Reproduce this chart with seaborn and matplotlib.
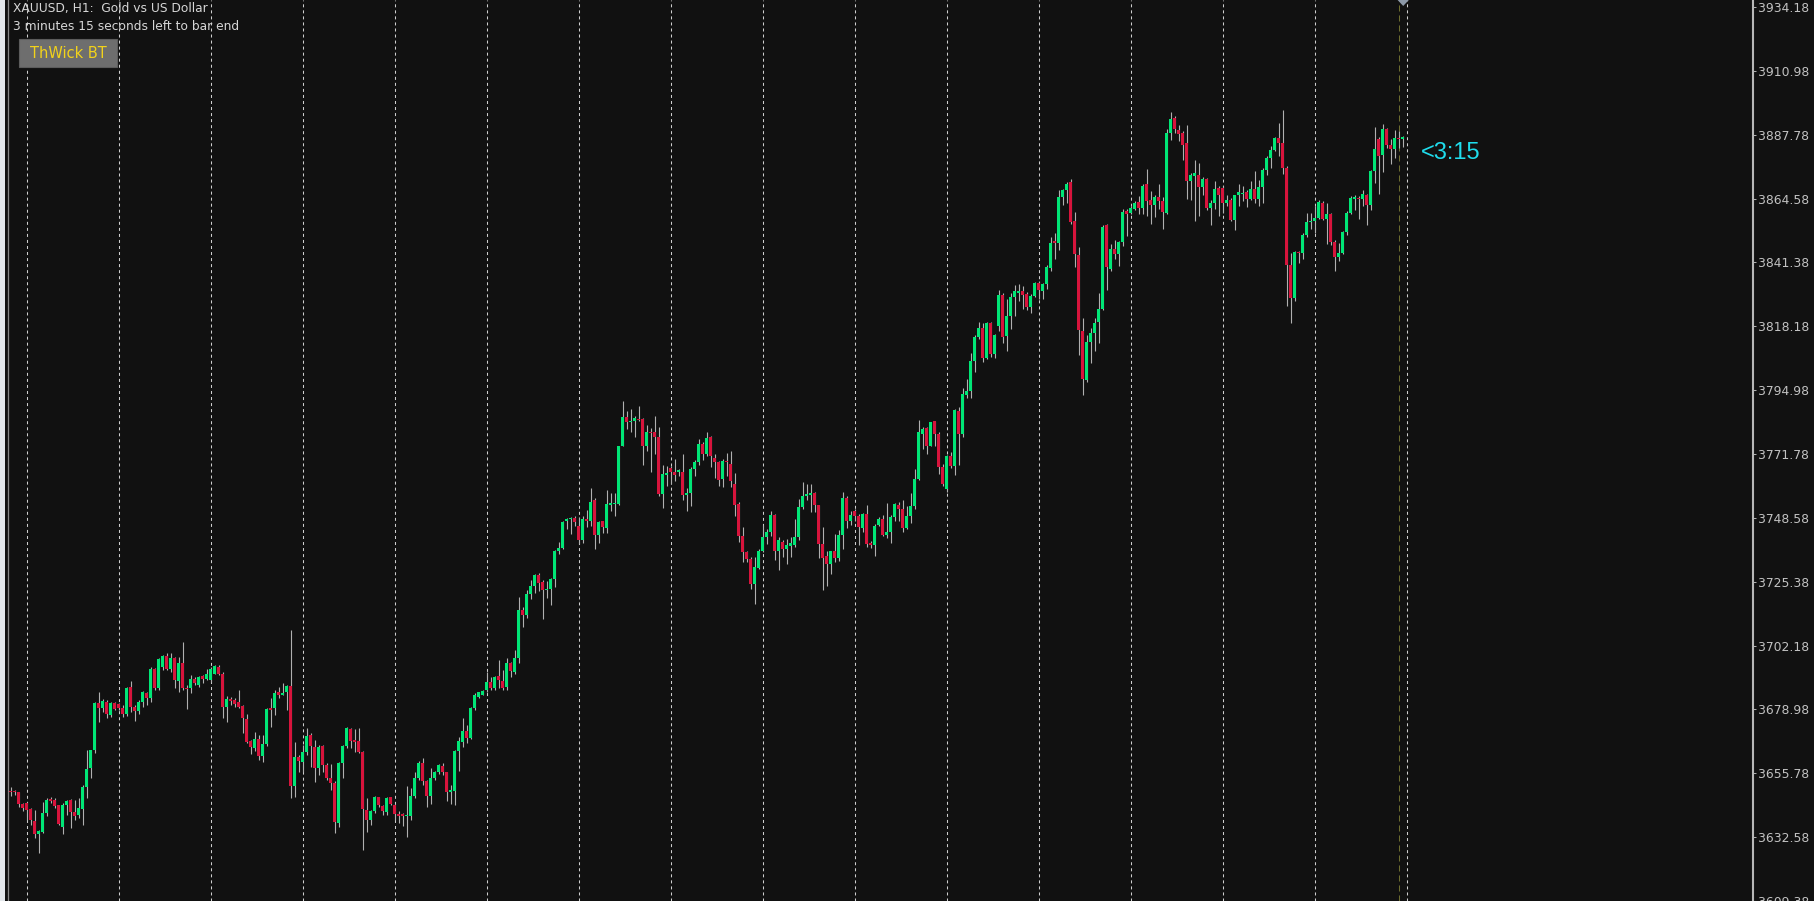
import matplotlib
matplotlib.use("Agg")
import matplotlib.pyplot as plt
import matplotlib.transforms as mtransforms
from matplotlib.patches import Rectangle, Polygon
import numpy as np
import pandas as pd
import seaborn as sns

# ---------------- data (XAUUSD H1 candles) ----------------
opens = [3649.4, 3649.5, 3648.9, 3644.7, 3645.0, 3642.7, 3638.5, 3633.7, 3634.6, 3641.3,
         3646.6, 3645.9, 3644.1, 3636.3, 3644.3, 3645.9, 3641.6, 3640.7, 3642.9, 3650.7,
         3657.6, 3664.1, 3681.4, 3679.4, 3681.8, 3676.9, 3681.2, 3680.8, 3679.4, 3677.5,
         3687.0, 3680.0, 3678.4, 3681.8, 3684.8, 3683.2, 3693.6, 3686.6, 3694.4, 3698.4,
         3693.6, 3697.5, 3689.3, 3695.7, 3686.8, 3686.6, 3690.2, 3688.0, 3691.2, 3690.2,
         3689.6, 3692.0, 3694.4, 3692.0, 3680.0, 3682.6, 3682.4, 3681.5, 3680.3, 3675.5,
         3667.5, 3665.1, 3668.1, 3662.1, 3666.3, 3679.4, 3679.4, 3685.2, 3684.4, 3685.2,
         3687.4, 3651.0, 3661.8, 3659.8, 3663.6, 3669.7, 3665.5, 3657.8, 3665.8, 3658.8,
         3654.2, 3652.2, 3637.7, 3659.4, 3665.8, 3671.9, 3667.9, 3667.5, 3663.6, 3642.5,
         3638.9, 3641.9, 3647.1, 3643.9, 3641.6, 3647.0, 3644.3, 3640.9, 3640.9, 3640.4,
         3640.4, 3647.7, 3654.0, 3659.4, 3653.0, 3647.7, 3654.2, 3656.2, 3658.6, 3656.2,
         3649.1, 3649.5, 3663.9, 3667.3, 3671.1, 3668.7, 3679.4, 3683.6, 3684.4, 3686.0,
         3688.8, 3686.6, 3691.2, 3689.3, 3687.0, 3696.0, 3692.6, 3697.5, 3715.0, 3713.2,
         3721.0, 3723.8, 3727.9, 3725.3, 3722.3, 3722.9, 3726.5, 3736.5, 3737.6, 3747.3,
         3748.0, 3748.5, 3745.8, 3740.7, 3748.2, 3747.6, 3755.2, 3742.2, 3747.3, 3744.8,
         3753.3, 3753.5, 3753.5, 3774.8, 3785.1, 3783.5, 3783.9, 3784.5, 3784.5, 3774.6,
         3779.9, 3779.6, 3777.8, 3757.3, 3764.2, 3766.6, 3765.4, 3765.1, 3765.4, 3756.9,
         3757.6, 3766.4, 3768.8, 3775.4, 3771.8, 3777.8, 3770.2, 3768.8, 3762.7, 3769.4,
         3768.2, 3760.9, 3753.7, 3741.9, 3736.1, 3733.7, 3724.7, 3730.3, 3736.7, 3741.6,
         3743.4, 3749.7, 3736.7, 3739.8, 3737.1, 3738.3, 3738.6, 3741.6, 3752.5, 3756.4,
         3756.9, 3757.6, 3753.1, 3739.2, 3734.7, 3731.9, 3736.4, 3734.0, 3742.4, 3755.8,
         3747.3, 3751.2, 3749.2, 3744.8, 3750.0, 3739.5, 3738.8, 3746.0, 3748.0, 3742.2,
         3743.6, 3748.8, 3753.3, 3751.9, 3744.8, 3749.2, 3752.8, 3762.7, 3779.0, 3781.1,
         3774.8, 3783.8, 3779.0, 3767.0, 3759.1, 3770.9, 3767.6, 3787.5, 3779.0, 3793.2,
         3794.7, 3805.6, 3814.4, 3817.7, 3806.6, 3819.5, 3808.0, 3818.3, 3829.4, 3814.7,
         3821.9, 3828.9, 3830.4, 3831.0, 3829.8, 3825.3, 3829.2, 3833.8, 3831.0, 3833.4,
         3839.5, 3849.1, 3848.3, 3865.2, 3867.6, 3870.5, 3856.4, 3843.9, 3816.5, 3798.7,
         3812.5, 3815.6, 3819.8, 3824.3, 3854.8, 3839.1, 3846.3, 3844.6, 3848.8, 3860.0,
         3859.4, 3860.8, 3863.3, 3861.2, 3869.7, 3864.0, 3862.4, 3865.2, 3863.6, 3859.4,
         3888.5, 3893.8, 3889.6, 3888.4, 3884.8, 3870.9, 3872.9, 3873.3, 3868.8, 3871.7,
         3861.2, 3862.8, 3868.3, 3868.4, 3862.8, 3864.2, 3856.7, 3865.7, 3866.4, 3866.9,
         3864.5, 3868.1, 3864.5, 3868.8, 3875.1, 3879.3, 3882.3, 3886.6, 3884.8, 3875.7,
         3840.3, 3828.6, 3845.1, 3844.7, 3851.2, 3856.0, 3856.4, 3857.6, 3863.0, 3857.2,
         3858.8, 3848.8, 3843.4, 3844.7, 3852.4, 3859.4, 3864.5, 3864.8, 3864.5, 3866.0,
         3862.4, 3874.5, 3886.2, 3880.5, 3889.8, 3884.2, 3882.6, 3886.6, 3886.2]
highs = [3650.7, 3649.7, 3649.1, 3644.9, 3645.5, 3643.1, 3642.5, 3635.2, 3645.5, 3646.7,
         3647.0, 3646.7, 3644.3, 3644.9, 3646.1, 3646.5, 3646.1, 3646.7, 3651.6, 3664.2,
         3664.2, 3681.8, 3685.4, 3682.6, 3682.4, 3681.8, 3681.8, 3681.2, 3680.6, 3687.2,
         3689.4, 3680.6, 3682.4, 3685.6, 3685.4, 3694.4, 3694.1, 3697.5, 3698.7, 3699.3,
         3699.3, 3698.1, 3698.1, 3703.3, 3687.8, 3691.4, 3690.8, 3691.2, 3691.4, 3693.8,
         3694.4, 3695.3, 3695.3, 3692.6, 3683.9, 3683.6, 3683.0, 3686.0, 3680.6, 3677.5,
         3667.9, 3670.9, 3669.7, 3669.7, 3679.4, 3683.0, 3686.0, 3687.2, 3688.7, 3687.8,
         3707.7, 3667.0, 3662.4, 3666.1, 3672.1, 3670.3, 3667.9, 3666.1, 3666.1, 3659.4,
         3659.1, 3652.8, 3659.8, 3666.1, 3672.7, 3672.3, 3671.9, 3672.3, 3663.9, 3646.7,
         3642.5, 3647.6, 3647.3, 3644.3, 3647.0, 3647.3, 3644.6, 3641.9, 3641.3, 3651.0,
         3650.4, 3656.4, 3660.3, 3661.2, 3653.4, 3657.6, 3656.6, 3659.1, 3659.4, 3656.4,
         3651.6, 3664.2, 3669.1, 3676.0, 3673.3, 3680.0, 3684.8, 3685.4, 3686.0, 3692.4,
         3690.8, 3691.2, 3696.9, 3693.3, 3697.5, 3696.3, 3700.5, 3719.8, 3716.2, 3722.3,
         3725.9, 3728.3, 3728.7, 3725.9, 3725.5, 3726.7, 3736.8, 3739.8, 3747.3, 3748.5,
         3748.8, 3749.4, 3748.8, 3749.2, 3751.6, 3759.3, 3755.7, 3747.6, 3747.6, 3758.7,
         3757.6, 3757.6, 3774.8, 3791.1, 3787.5, 3788.3, 3785.7, 3789.1, 3784.7, 3782.3,
         3781.1, 3785.7, 3781.5, 3767.8, 3767.6, 3767.3, 3770.0, 3766.4, 3771.8, 3759.3,
         3767.0, 3769.7, 3777.2, 3776.0, 3779.6, 3778.2, 3771.8, 3769.4, 3770.0, 3772.2,
         3773.0, 3764.9, 3754.3, 3745.2, 3736.7, 3734.3, 3734.3, 3737.3, 3746.0, 3744.6,
         3751.2, 3750.0, 3741.6, 3740.4, 3741.0, 3741.6, 3748.2, 3755.5, 3761.5, 3760.9,
         3760.9, 3757.9, 3753.3, 3745.2, 3736.4, 3736.7, 3742.8, 3744.0, 3757.9, 3756.4,
         3751.2, 3751.9, 3750.0, 3750.4, 3753.3, 3740.0, 3746.4, 3748.8, 3749.7, 3754.0,
         3749.7, 3754.0, 3754.3, 3754.9, 3752.8, 3757.6, 3766.4, 3784.2, 3781.5, 3781.5,
         3783.5, 3783.9, 3779.6, 3768.2, 3771.4, 3772.6, 3788.3, 3788.7, 3795.6, 3799.2,
         3808.6, 3814.9, 3819.8, 3819.3, 3819.8, 3819.8, 3815.3, 3831.4, 3830.4, 3828.0,
         3830.4, 3833.0, 3833.4, 3832.8, 3830.6, 3829.8, 3834.3, 3834.6, 3833.8, 3840.3,
         3850.7, 3852.1, 3867.6, 3867.9, 3870.5, 3871.7, 3859.6, 3847.1, 3821.3, 3814.9,
         3817.7, 3821.3, 3830.2, 3854.8, 3855.2, 3847.9, 3849.5, 3849.1, 3860.8, 3860.8,
         3861.8, 3863.6, 3865.4, 3869.7, 3875.3, 3867.2, 3865.7, 3870.0, 3865.2, 3890.0,
         3896.0, 3894.5, 3891.4, 3889.0, 3891.4, 3873.9, 3878.7, 3877.5, 3872.4, 3872.1,
         3864.2, 3870.9, 3869.1, 3869.1, 3866.0, 3864.8, 3866.0, 3869.7, 3869.3, 3867.6,
         3870.9, 3874.5, 3871.5, 3875.7, 3879.9, 3883.5, 3886.9, 3892.0, 3896.8, 3876.3,
         3844.9, 3845.5, 3845.5, 3852.1, 3859.2, 3859.4, 3861.8, 3864.0, 3863.6, 3862.8,
         3859.4, 3849.7, 3848.3, 3852.7, 3860.0, 3865.4, 3865.7, 3865.4, 3867.8, 3866.4,
         3875.1, 3890.6, 3886.9, 3891.8, 3890.2, 3886.2, 3889.6, 3889.0, 3887.4]
lows = [3647.7, 3647.9, 3643.7, 3641.9, 3638.9, 3637.1, 3632.2, 3626.8, 3634.0, 3640.1,
        3644.9, 3643.1, 3637.1, 3633.7, 3640.7, 3635.8, 3638.9, 3639.5, 3637.1, 3646.7,
        3654.0, 3663.0, 3674.5, 3678.1, 3675.7, 3676.3, 3678.7, 3678.7, 3676.3, 3676.7,
        3678.1, 3674.8, 3677.5, 3680.0, 3680.6, 3681.8, 3686.0, 3686.2, 3693.2, 3693.2,
        3692.6, 3686.6, 3685.4, 3686.0, 3679.1, 3684.8, 3687.8, 3687.2, 3688.4, 3689.6,
        3689.0, 3691.7, 3691.4, 3676.0, 3674.5, 3680.6, 3680.0, 3679.4, 3670.3, 3666.7,
        3662.7, 3663.9, 3660.6, 3660.0, 3665.8, 3672.7, 3676.9, 3683.2, 3684.2, 3678.7,
        3646.7, 3647.0, 3656.4, 3656.4, 3662.4, 3658.2, 3652.5, 3655.2, 3656.4, 3653.4,
        3649.7, 3634.0, 3636.1, 3654.0, 3664.9, 3664.9, 3663.6, 3663.3, 3628.0, 3634.6,
        3637.1, 3641.3, 3643.7, 3640.7, 3640.7, 3644.3, 3638.9, 3637.7, 3636.5, 3632.5,
        3638.9, 3646.7, 3653.4, 3651.6, 3643.7, 3644.6, 3653.4, 3655.4, 3655.2, 3645.8,
        3644.6, 3644.1, 3656.6, 3665.5, 3666.7, 3668.2, 3678.7, 3683.2, 3684.2, 3685.4,
        3686.0, 3686.0, 3686.8, 3686.0, 3686.0, 3690.8, 3692.0, 3695.7, 3709.0, 3712.2,
        3719.2, 3721.4, 3721.9, 3712.0, 3719.5, 3717.1, 3723.5, 3735.5, 3737.1, 3744.6,
        3742.8, 3745.8, 3739.2, 3739.5, 3745.2, 3745.8, 3737.1, 3739.5, 3743.2, 3743.2,
        3751.2, 3749.2, 3753.1, 3774.6, 3780.9, 3779.6, 3777.8, 3783.9, 3767.8, 3773.0,
        3765.4, 3771.8, 3756.4, 3752.1, 3760.1, 3760.9, 3762.1, 3763.7, 3755.2, 3750.9,
        3752.8, 3763.7, 3767.8, 3769.7, 3771.2, 3767.0, 3763.0, 3760.1, 3759.7, 3763.9,
        3759.7, 3749.2, 3739.8, 3732.5, 3732.5, 3722.9, 3717.4, 3730.1, 3736.1, 3739.2,
        3741.9, 3733.1, 3729.5, 3734.3, 3731.9, 3734.3, 3738.0, 3740.4, 3751.9, 3754.9,
        3750.6, 3750.6, 3734.0, 3722.2, 3723.8, 3728.3, 3732.5, 3732.8, 3737.1, 3744.8,
        3746.1, 3747.6, 3738.6, 3743.4, 3738.0, 3737.6, 3734.7, 3745.6, 3741.9, 3741.2,
        3739.5, 3747.3, 3747.3, 3743.4, 3744.4, 3746.8, 3751.9, 3762.5, 3773.6, 3771.8,
        3774.6, 3774.8, 3764.5, 3760.3, 3758.1, 3766.6, 3764.2, 3767.8, 3777.8, 3792.3,
        3792.3, 3801.4, 3813.7, 3805.3, 3806.2, 3807.2, 3806.8, 3816.5, 3812.0, 3809.2,
        3817.1, 3821.9, 3827.4, 3824.3, 3824.1, 3822.9, 3828.9, 3828.0, 3828.2, 3831.6,
        3838.2, 3842.7, 3845.9, 3862.4, 3862.8, 3855.5, 3839.8, 3807.7, 3793.2, 3798.0,
        3804.8, 3809.2, 3812.0, 3824.1, 3831.4, 3838.2, 3842.7, 3840.1, 3847.3, 3850.9,
        3858.8, 3860.4, 3858.8, 3859.1, 3858.2, 3855.5, 3857.9, 3860.8, 3853.4, 3859.1,
        3886.0, 3888.5, 3885.4, 3878.5, 3864.5, 3864.2, 3856.4, 3858.2, 3866.0, 3860.6,
        3854.8, 3860.8, 3858.2, 3859.4, 3862.0, 3856.4, 3853.1, 3862.0, 3863.6, 3861.6,
        3864.0, 3862.8, 3861.8, 3862.8, 3873.3, 3875.7, 3881.7, 3880.2, 3873.6, 3825.6,
        3819.5, 3827.4, 3841.0, 3842.5, 3850.7, 3853.4, 3851.9, 3857.0, 3856.7, 3847.9,
        3847.6, 3838.2, 3841.9, 3844.3, 3851.2, 3858.8, 3860.6, 3857.0, 3862.0, 3854.8,
        3860.6, 3870.3, 3866.4, 3874.1, 3883.0, 3877.3, 3879.3, 3883.0, 3883.3]
closes = [3649.0, 3649.0, 3644.7, 3643.1, 3642.5, 3638.9, 3633.7, 3634.9, 3641.3, 3646.2,
          3645.8, 3643.9, 3637.5, 3644.3, 3645.8, 3641.6, 3640.1, 3643.1, 3650.7, 3657.2,
          3664.1, 3681.2, 3679.6, 3682.2, 3677.2, 3681.2, 3679.1, 3679.4, 3677.2, 3686.6,
          3680.0, 3678.4, 3681.5, 3685.2, 3683.2, 3693.8, 3686.6, 3697.2, 3698.4, 3693.6,
          3697.5, 3689.5, 3695.7, 3686.6, 3686.4, 3690.2, 3688.4, 3690.8, 3690.2, 3692.0,
          3693.8, 3694.8, 3692.0, 3680.0, 3682.6, 3682.0, 3680.8, 3679.7, 3675.7, 3667.3,
          3665.5, 3668.1, 3662.1, 3666.3, 3679.1, 3678.7, 3684.8, 3684.4, 3684.8, 3687.4,
          3651.0, 3661.8, 3660.3, 3663.6, 3669.4, 3665.8, 3657.8, 3665.5, 3658.8, 3654.0,
          3652.2, 3638.0, 3659.4, 3665.8, 3672.1, 3667.5, 3667.3, 3663.6, 3642.9, 3638.9,
          3641.9, 3647.1, 3644.3, 3641.9, 3646.7, 3644.6, 3640.9, 3640.4, 3640.4, 3640.7,
          3647.7, 3654.0, 3659.4, 3653.0, 3647.7, 3654.2, 3656.2, 3658.8, 3656.4, 3649.1,
          3649.7, 3663.9, 3667.5, 3671.1, 3668.7, 3679.4, 3684.2, 3685.2, 3685.6, 3688.8,
          3686.6, 3690.8, 3689.6, 3686.6, 3696.0, 3692.9, 3697.5, 3715.0, 3713.4, 3721.0,
          3723.8, 3727.9, 3725.0, 3722.3, 3722.9, 3726.5, 3736.5, 3737.6, 3747.0, 3748.2,
          3748.5, 3747.0, 3740.7, 3748.2, 3747.6, 3754.5, 3742.2, 3747.0, 3745.2, 3753.7,
          3754.0, 3754.0, 3774.6, 3785.1, 3783.5, 3783.9, 3784.7, 3784.1, 3774.6, 3779.6,
          3779.4, 3777.8, 3757.3, 3764.5, 3764.9, 3765.4, 3764.2, 3765.8, 3756.9, 3757.6,
          3766.4, 3768.8, 3775.4, 3771.8, 3777.5, 3770.9, 3768.8, 3762.5, 3769.4, 3768.8,
          3761.8, 3753.1, 3741.9, 3736.1, 3733.7, 3724.7, 3730.7, 3736.4, 3741.6, 3743.6,
          3749.7, 3736.7, 3740.4, 3737.1, 3738.6, 3739.5, 3741.6, 3752.5, 3756.7, 3757.3,
          3757.6, 3753.3, 3739.2, 3734.0, 3731.9, 3736.4, 3734.0, 3742.4, 3755.7, 3747.3,
          3749.7, 3749.2, 3745.2, 3750.0, 3739.2, 3738.8, 3745.8, 3748.2, 3742.2, 3743.6,
          3748.8, 3753.7, 3751.9, 3744.8, 3749.2, 3752.8, 3762.7, 3779.6, 3780.9, 3774.8,
          3783.3, 3779.0, 3767.0, 3760.9, 3770.9, 3767.6, 3787.9, 3779.0, 3793.5, 3794.7,
          3805.6, 3814.4, 3817.7, 3806.8, 3819.3, 3808.0, 3814.9, 3829.4, 3814.4, 3821.9,
          3828.9, 3831.0, 3831.0, 3829.4, 3825.3, 3829.2, 3834.0, 3831.4, 3833.4, 3839.8,
          3848.3, 3848.5, 3865.2, 3867.6, 3870.0, 3856.0, 3844.3, 3816.9, 3799.0, 3812.5,
          3815.6, 3819.5, 3824.6, 3854.3, 3839.8, 3846.3, 3844.3, 3848.8, 3859.6, 3859.1,
          3861.2, 3863.0, 3861.2, 3869.3, 3863.6, 3862.4, 3865.2, 3863.6, 3859.6, 3888.5,
          3893.5, 3889.8, 3888.1, 3884.2, 3870.9, 3873.3, 3873.7, 3868.8, 3871.7, 3861.2,
          3862.8, 3868.1, 3866.0, 3863.0, 3864.2, 3856.7, 3865.7, 3866.9, 3866.6, 3864.5,
          3868.1, 3864.5, 3868.8, 3875.1, 3879.3, 3882.3, 3886.6, 3884.8, 3875.7, 3840.3,
          3828.6, 3845.1, 3844.7, 3851.2, 3856.0, 3856.4, 3857.6, 3863.3, 3857.2, 3858.8,
          3848.8, 3843.4, 3844.7, 3852.4, 3859.4, 3864.8, 3865.2, 3864.5, 3866.4, 3862.4,
          3874.5, 3882.6, 3880.2, 3889.8, 3884.2, 3882.6, 3886.6, 3886.2, 3886.9]

price_ticks = [3609.38, 3632.58, 3655.78, 3678.98, 3702.18, 3725.38, 3748.58, 3771.78,
               3794.98, 3818.18, 3841.38, 3864.58, 3887.78, 3910.98, 3934.18]
price_range = [3610.1, 3936.72]
bar_range = [-0.75, 435.5]
separator_bars = [4 + 23 * k for k in range(16)]
current_bar = 347
title_line = "XAUUSD, H1:  Gold vs US Dollar"
timer_line = "3 minutes 15 seconds left to bar end"
button_label = "ThWick BT"
countdown_label = "<3:15"

# ---------------- style ----------------
BG = "#111111"
BULL = "#00e676"
BEAR = "#d7143c"
WICK = "#b0b0b0"

sns.set_theme(style="dark", rc={"axes.facecolor": BG, "figure.facecolor": BG,
                                "axes.grid": False})
plt.rcParams["font.family"] = ["DejaVu Sans"]

W, H = 1815, 901
fig = plt.figure(figsize=(W / 100, H / 100), dpi=100, facecolor=BG)
ax = fig.add_axes([8 / W, 0, (1753 - 8) / W, 1])
ax.set_facecolor(BG)

df = pd.DataFrame({"bar": np.arange(len(closes)), "open": opens, "high": highs,
                   "low": lows, "close": closes})
df["bull"] = df["close"] >= df["open"]
df["body_low"] = df[["open", "close"]].min(axis=1)
df["body_h"] = (df["close"] - df["open"]).abs().clip(lower=0.36)

# separators
for b in separator_bars:
    ax.axvline(b, color="#cfcfcf", lw=0.75, ls=(0, (2.9, 2.9)), zorder=1)
ax.axvline(current_bar, color="#6d6d30", lw=0.75, ls=(0, (5.8, 3.8)), zorder=1)

# wicks and bodies
ax.vlines(df["bar"], df["low"], df["high"], color=WICK, lw=0.8, zorder=2)
ax.bar(df["bar"], df["body_h"], bottom=df["body_low"], width=0.75,
       color=np.where(df["bull"], BULL, BEAR), linewidth=0, zorder=3)

ax.set_xlim(*bar_range)
ax.set_ylim(*price_range)
ax.set_xticks([])
ax.yaxis.tick_right()
ax.set_yticks(price_ticks)
ax.set_yticklabels([f"{v:.2f}" for v in price_ticks])
ax.tick_params(axis="y", direction="out", length=2.5, width=0.75, color="#b0b0b0",
               labelcolor="#c2c2c2", labelsize=8.9, pad=1)
for s in ["top", "bottom"]:
    ax.spines[s].set_visible(False)
ax.spines["right"].set_color("#b8b8b8")
ax.spines["right"].set_linewidth(1.5)
ax.spines["left"].set_color("#858585")
ax.spines["left"].set_linewidth(0.9)

# shift marker triangle at top
trans = mtransforms.blended_transform_factory(ax.transData, ax.transAxes)
last = len(closes) - 1
ax.add_patch(Polygon([(last - 1.35, 1.0), (last + 1.45, 1.0), (last + 0.05, 1 - 6 / H)],
                     closed=True, facecolor="#8d99a8", edgecolor="none",
                     transform=trans, clip_on=False, zorder=5))

# countdown label
ax.annotate(countdown_label, xy=(last, closes[-1]), xytext=(18, -16),
            textcoords="offset pixels", color="#1fdcec", fontsize=17,
            family=["Liberation Sans", "DejaVu Sans"], ha="left", va="center")

# left window strip
fig.patches.append(Rectangle((0, 0), 5 / W, 1, transform=fig.transFigure,
                             facecolor="#e3e7eb", edgecolor="none", zorder=0))

# header texts
fig.text(13 / W, 1 - 12 / H, title_line, color="#d6d6d6", fontsize=8.8, va="baseline", ha="left")
fig.text(13 / W, 1 - 29.5 / H, timer_line, color="#d6d6d6", fontsize=8.8, va="baseline", ha="left")

# button
fig.patches.append(Rectangle((19 / W, 1 - 67 / H), 98 / W, 28 / H, transform=fig.transFigure,
                             facecolor="#6e6e6e", edgecolor="#5c5c5c", linewidth=0.8, zorder=4))
fig.text(68 / W, 1 - 58.5 / H, button_label, color="#f2d21b", fontsize=10.5,
         ha="center", va="baseline", zorder=5)

fig.savefig("out.png", dpi=100, facecolor=BG)
